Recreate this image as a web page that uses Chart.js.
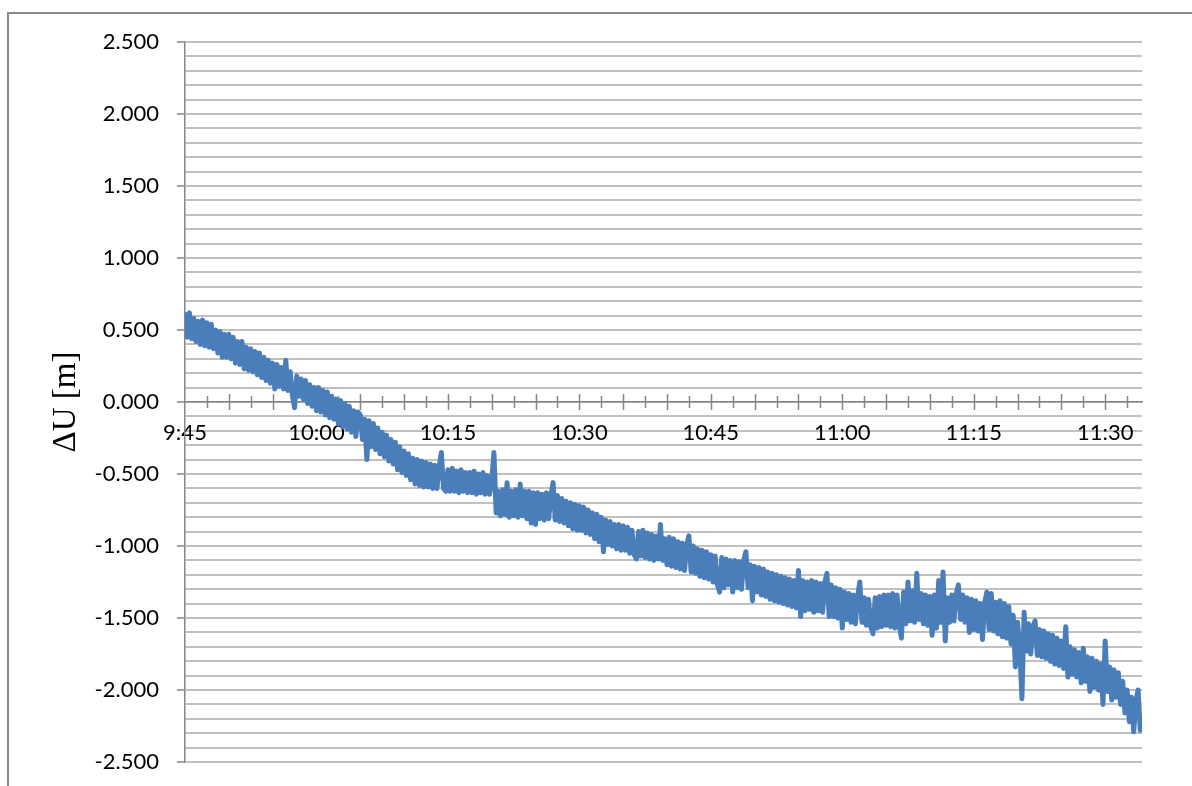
<!DOCTYPE html>
<html>
<head>
<meta charset="utf-8">
<script src="https://cdn.jsdelivr.net/npm/chart.js@4.4.1/dist/chart.umd.min.js"></script>
<style>
    html, body { margin: 0; padding: 0; background: #fff; }
    #wrap { width: 1192px; height: 786px; position: relative; }
</style>
</head>
<body>
<div id="wrap"><canvas id="duChart"></canvas></div>
<script>
// ΔU samples, one every quarter minute starting at 9:45
const sampleStepMin = 0.25;
const deltaU = [
    0.61, 0.45, 0.62, 0.44, 0.58, 0.42, 0.56, 0.40, 0.57, 0.39,
    0.55, 0.38, 0.54, 0.37, 0.50, 0.34, 0.49, 0.31, 0.47, 0.31,
    0.47, 0.30, 0.45, 0.27, 0.42, 0.26, 0.42, 0.23, 0.38, 0.22,
    0.37, 0.21, 0.35, 0.19, 0.34, 0.17, 0.31, 0.15, 0.29, 0.13,
    0.27, 0.09, 0.26, 0.11, 0.24, 0.09, 0.29, 0.08, 0.21, 0.05,
    -0.04, 0.18, 0.04, 0.16, 0.02, 0.15, -0.01, 0.12, -0.03, 0.10,
    -0.06, 0.10, -0.07, 0.08, -0.09, 0.07, -0.11, 0.04, -0.12, 0.02,
    -0.15, 0.01, -0.17, -0.01, -0.19, -0.03, -0.21, -0.06, -0.24, -0.07,
    -0.09, -0.26, -0.12, -0.40, -0.13, -0.31, -0.15, -0.33, -0.18, -0.36,
    -0.21, -0.38, -0.23, -0.41, -0.26, -0.43, -0.28, -0.47, -0.31, -0.49,
    -0.34, -0.51, -0.36, -0.54, -0.39, -0.57, -0.40, -0.58, -0.41, -0.59,
    -0.42, -0.59, -0.43, -0.60, -0.44, -0.60, -0.45, -0.35, -0.60, -0.62,
    -0.47, -0.62, -0.46, -0.62, -0.48, -0.63, -0.47, -0.62, -0.49, -0.63,
    -0.49, -0.63, -0.48, -0.64, -0.50, -0.63, -0.49, -0.64, -0.51, -0.64,
    -0.55, -0.35, -0.77, -0.62, -0.79, -0.61, -0.78, -0.56, -0.80, -0.62,
    -0.79, -0.61, -0.80, -0.57, -0.79, -0.62, -0.81, -0.62, -0.84, -0.63,
    -0.85, -0.63, -0.81, -0.64, -0.82, -0.63, -0.81, -0.65, -0.56, -0.82,
    -0.65, -0.83, -0.67, -0.84, -0.69, -0.86, -0.70, -0.88, -0.71, -0.89,
    -0.72, -0.89, -0.73, -0.91, -0.75, -0.92, -0.77, -0.95, -0.78, -0.97,
    -0.80, -1.04, -0.82, -0.99, -0.83, -1.00, -0.85, -1.02, -0.85, -1.03,
    -0.86, -1.03, -0.87, -1.05, -0.89, -1.06, -1.09, -0.90, -1.07, -0.89,
    -1.08, -0.91, -1.09, -0.92, -1.10, -0.93, -1.09, -0.85, -1.10, -0.95,
    -1.13, -0.94, -1.14, -0.95, -1.15, -0.97, -1.16, -0.98, -1.17, -0.99,
    -0.93, -1.18, -1.00, -1.19, -1.02, -1.21, -1.03, -1.22, -1.04, -1.23,
    -1.06, -1.25, -1.07, -1.27, -1.32, -1.08, -1.29, -1.09, -1.27, -1.10,
    -1.32, -1.10, -1.29, -1.11, -1.30, -1.10, -1.04, -1.29, -1.13, -1.38,
    -1.14, -1.32, -1.15, -1.34, -1.16, -1.35, -1.18, -1.37, -1.19, -1.38,
    -1.20, -1.39, -1.21, -1.40, -1.22, -1.41, -1.23, -1.42, -1.24, -1.43,
    -1.17, -1.49, -1.24, -1.45, -1.25, -1.44, -1.24, -1.46, -1.25, -1.45,
    -1.26, -1.46, -1.25, -1.19, -1.49, -1.27, -1.49, -1.29, -1.50, -1.30,
    -1.57, -1.32, -1.51, -1.33, -1.53, -1.34, -1.54, -1.35, -1.25, -1.53,
    -1.36, -1.55, -1.37, -1.56, -1.61, -1.36, -1.57, -1.35, -1.56, -1.34,
    -1.55, -1.34, -1.56, -1.33, -1.57, -1.34, -1.55, -1.64, -1.32, -1.54,
    -1.25, -1.52, -1.31, -1.53, -1.19, -1.51, -1.33, -1.54, -1.34, -1.55,
    -1.35, -1.62, -1.34, -1.57, -1.24, -1.53, -1.18, -1.66, -1.36, -1.53,
    -1.34, -1.52, -1.33, -1.27, -1.51, -1.34, -1.53, -1.36, -1.60, -1.37,
    -1.58, -1.38, -1.59, -1.40, -1.65, -1.39, -1.32, -1.58, -1.33, -1.59,
    -1.39, -1.61, -1.38, -1.63, -1.40, -1.64, -1.42, -1.68, -1.48, -1.84,
    -1.53, -1.71, -2.06, -1.46, -1.73, -1.54, -1.75, -1.56, -1.52, -1.76,
    -1.58, -1.77, -1.59, -1.78, -1.61, -1.80, -1.62, -1.82, -1.64, -1.83,
    -1.66, -1.85, -1.56, -1.91, -1.70, -1.89, -1.72, -1.91, -1.74, -1.95,
    -1.71, -1.94, -1.77, -2.01, -1.78, -1.98, -1.80, -2.00, -1.82, -2.10,
    -1.66, -2.01, -1.84, -2.07, -1.86, -2.05, -1.88, -2.10, -1.94, -2.16,
    -2.00, -2.22, -2.05, -2.29, -2.08, -2.00, -2.28
];

const xTickMinutes = [0, 15, 30, 45, 60, 75, 90, 105];
const xTickLabels = ['9:45', '10:00', '10:15', '10:30', '10:45', '11:00', '11:15', '11:30'];
const yTickValues = [2.5, 2, 1.5, 1, 0.5, 0, -0.5, -1, -1.5, -2, -2.5];
const yTickLabels = ['2.500', '2.000', '1.500', '1.000', '0.500', '0.000', '-0.500', '-1.000', '-1.500', '-2.000', '-2.500'];
const xEndMin = 109.2;
const xMinorStep = 2.5;
const yMinorStep = 0.1;

const points = deltaU.map((v, i) => ({ x: i * sampleStepMin, y: v }));

function isMajorY(v) {
    return yTickValues.findIndex(t => Math.abs(t - v) < 1e-6);
}

// frame round the chart + the small marks crossing the zero axis
const axisMarks = {
    id: 'axisMarks',
    beforeDraw(chart) {
        const ctx = chart.ctx;
        ctx.save();
        ctx.strokeStyle = '#8a8a8a';
        ctx.lineWidth = 2;
        ctx.strokeRect(8, 13, 1400, 1000);
        ctx.restore();
    },
    beforeDatasetsDraw(chart) {
        const { ctx, scales: { x, y } } = chart;
        const y0 = y.getPixelForValue(0);
        ctx.save();
        ctx.strokeStyle = '#868686';
        ctx.lineWidth = 1.5;
        for (let m = xMinorStep; m < xEndMin; m += xMinorStep) {
            const px = Math.round(x.getPixelForValue(m)) + 0.5;
            const len = (m % 5 === 0) ? 8 : 6;
            ctx.beginPath();
            ctx.moveTo(px, y0 - len);
            ctx.lineTo(px, y0 + len);
            ctx.stroke();
        }
        ctx.restore();
    }
};

new Chart(document.getElementById('duChart'), {
    type: 'line',
    data: {
        datasets: [{
            data: points,
            borderColor: '#4a7ebb',
            borderWidth: 5,
            pointRadius: 0,
            tension: 0,
            borderJoinStyle: 'round',
            borderCapStyle: 'round',
            clip: 0
        }]
    },
    options: {
        responsive: true,
        maintainAspectRatio: false,
        animation: false,
        layout: { autoPadding: false, padding: { left: 20, top: 42, right: 50, bottom: 24 } },
        plugins: {
            legend: { display: false },
            tooltip: { enabled: false }
        },
        scales: {
            x: {
                type: 'linear',
                position: { y: 0 },
                min: 0,
                max: xEndMin,
                afterBuildTicks: (s) => { s.ticks = xTickMinutes.map(v => ({ value: v })); },
                // axis sits on the zero line, so it takes no room at the bottom
                afterFit: (s) => { s.height = 0; },
                grid: { display: false, drawTicks: false },
                border: { display: true, color: '#868686', width: 1.5 },
                ticks: {
                    callback: (v, i) => xTickLabels[i],
                    color: '#000',
                    font: { family: 'Lato', size: 22 },
                    padding: 18,
                    maxRotation: 0,
                    autoSkip: false
                }
            },
            y: {
                min: -2.5,
                max: 2.5,
                afterBuildTicks: (s) => {
                    const ticks = [];
                    for (let k = Math.round(-2.5 / yMinorStep); k <= Math.round(2.5 / yMinorStep); k++) {
                        ticks.push({ value: k * yMinorStep });
                    }
                    s.ticks = ticks;
                },
                // fixed width, and no extra room asked above/below for the end labels
                afterFit: (s) => {
                    s.width = 165;
                    s.paddingTop = 0;
                    s.paddingBottom = 0;
                },
                grid: {
                    color: '#c0c0c0',
                    lineWidth: 2,
                    tickLength: 8,
                    tickWidth: 1.5,
                    tickColor: (c) => isMajorY(c.tick.value) >= 0 ? '#868686' : 'rgba(0,0,0,0)'
                },
                border: { display: true, color: '#868686', width: 1.5 },
                ticks: {
                    autoSkip: false,
                    callback: (v) => {
                        const j = isMajorY(v);
                        return j >= 0 ? yTickLabels[j] : '';
                    },
                    color: '#000',
                    font: { family: 'Lato', size: 22 },
                    padding: 18
                },
                title: {
                    display: true,
                    text: 'ΔU [m]',
                    color: '#000',
                    font: { family: 'Liberation Serif', size: 33 },
                    padding: { top: 27, bottom: 0 }
                }
            }
        }
    },
    plugins: [axisMarks]
});
</script>
</body>
</html>
